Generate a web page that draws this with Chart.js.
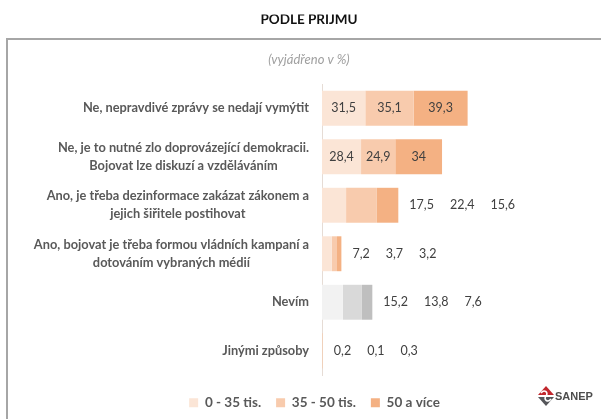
<!DOCTYPE html>
<html>
<head>
<meta charset="utf-8">
<script src="https://cdn.jsdelivr.net/npm/chart.js@4.4.1/dist/chart.umd.min.js"></script>
<style>
html, body { margin: 0; padding: 0; background: #ffffff; }
#wrap { position: relative; width: 601px; height: 419px; overflow: hidden; }
canvas { display: block; }
</style>
</head>
<body>
<div id="wrap"><canvas id="c" width="601" height="419"></canvas></div>
<script>
// ---- data ----
const chartTitle = 'PODLE PŘÍJMU';
const chartSubtitle = '(vyjádřeno v %)';
const logoText = 'SANEP';
const categories = [
  ['Ne, nepravdivé zprávy se nedají vymýtit'],
  ['Ne, je to nutné zlo doprovázející demokracii.', 'Bojovat lze diskuzí a vzděláváním'],
  ['Ano, je třeba dezinformace zakázat zákonem a', 'jejich šiřitele postihovat'],
  ['Ano, bojovat je třeba formou vládních kampaní a', 'dotováním vybraných médií'],
  ['Nevím'],
  ['Jinými způsoby']
];
const seriesNames = ['0 - 35 tis.', '35 - 50 tis.', '50 a více'];
const values0to35 = [31.5, 28.4, 17.5, 7.2, 15.2, 0.2];
const values35to50 = [35.1, 24.9, 22.4, 3.7, 13.8, 0.1];
const values50plus = [39.3, 34, 15.6, 3.2, 7.6, 0.3];

// ---- styles ----
const orangeColors = ['#FBE5D6', '#F8CBAD', '#F4B183'];
const greyColors = ['#F2F2F2', '#D9D9D9', '#BFBFBF'];
const greyCategory = 'Nevím';
const FONT = 'Lato, "Open Sans", sans-serif';

const seriesValues = [values0to35, values35to50, values50plus];
const greyIndex = categories.findIndex(c => c[0] === greyCategory);

const datasets = seriesValues.map((vals, d) => ({
  label: seriesNames[d],
  data: vals,
  backgroundColor: (ctx) => (ctx.dataIndex === greyIndex ? greyColors[d] : orangeColors[d]),
  borderWidth: 0,
  barPercentage: 0.72,
  categoryPercentage: 1.0
}));

function fmt(v) { return String(v).replace('.', ','); }

const decorPlugin = {
  id: 'decor',
  beforeDraw(chart) {
    const ctx = chart.ctx;
    ctx.save();
    // frame
    ctx.strokeStyle = '#A6A6A6';
    ctx.lineWidth = 2;
    ctx.strokeRect(7, 39, 800, 600);
    // title (clipped at top like the reference)
    ctx.save();
    ctx.beginPath();
    ctx.rect(0, 14.5, 601, 14);
    ctx.clip();
    ctx.fillStyle = '#111111';
    ctx.font = 'bold 13.5px ' + FONT;
    ctx.textAlign = 'center';
    ctx.textBaseline = 'alphabetic';
    ctx.fillText(chartTitle, 309, 23.5);
    ctx.restore();
    // subtitle
    ctx.fillStyle = '#A0A0A0';
    ctx.font = 'italic 13px ' + FONT;
    ctx.textAlign = 'center';
    ctx.textBaseline = 'middle';
    ctx.fillText(chartSubtitle, 309, 60);
    // logo
    ctx.fillStyle = '#C1272D';
    ctx.beginPath();
    ctx.moveTo(538, 395); ctx.lineTo(546, 386); ctx.lineTo(554, 395); ctx.closePath();
    ctx.fill();
    ctx.fillStyle = '#55565A';
    ctx.beginPath();
    ctx.moveTo(538, 397); ctx.lineTo(554, 397); ctx.lineTo(546, 406); ctx.closePath();
    ctx.fill();
    ctx.strokeStyle = '#ffffff';
    ctx.lineWidth = 1.6;
    ctx.beginPath();
    ctx.moveTo(541, 393);
    ctx.bezierCurveTo(544, 389, 549, 392, 546, 396);
    ctx.bezierCurveTo(543, 400, 548, 403, 551, 399);
    ctx.stroke();
    ctx.fillStyle = '#4D4D4D';
    ctx.font = 'bold 11px "Liberation Sans", Arial, sans-serif';
    ctx.textAlign = 'left';
    ctx.textBaseline = 'middle';
    ctx.fillText(logoText, 555, 397);
    ctx.restore();
  },
  afterDatasetsDraw(chart) {
    const ctx = chart.ctx;
    const yScale = chart.scales.y;
    const area = chart.chartArea;
    ctx.save();
    // category labels: block right-aligned, lines centred within block
    ctx.font = 'bold 12.8px ' + FONT;
    ctx.fillStyle = '#595959';
    ctx.textAlign = 'center';
    ctx.textBaseline = 'middle';
    const lineH = 18;
    categories.forEach((lines, i) => {
      const y = yScale.getPixelForValue(i);
      const maxW = Math.max(...lines.map(l => ctx.measureText(l).width));
      const cx = area.left - 13 - maxW / 2;
      lines.forEach((l, k) => {
        ctx.fillText(l, cx, y - (lines.length - 1) * lineH / 2 + k * lineH);
      });
    });
    // value labels
    ctx.font = '12.5px ' + FONT;
    ctx.fillStyle = '#404040';
    const metas = chart.data.datasets.map((_, d) => chart.getDatasetMeta(d));
    categories.forEach((_, i) => {
      const bars = metas.map(m => m.data[i]);
      const widths = bars.map(b => Math.abs(b.x - b.base));
      const minW = Math.min(...widths);
      const y = bars[0].y;
      if (minW >= 28) {
        ctx.textAlign = 'center';
        bars.forEach((b, d) => {
          ctx.fillText(fmt(seriesValues[d][i]), (b.x + b.base) / 2, y);
        });
      } else {
        ctx.textAlign = 'left';
        let cursor = Math.max(...bars.map(b => b.x)) + 11;
        bars.forEach((b, d) => {
          const t = fmt(seriesValues[d][i]);
          ctx.fillText(t, cursor, y);
          cursor += ctx.measureText(t).width + 16;
        });
      }
    });
    ctx.restore();
  }
};

new Chart(document.getElementById('c'), {
  type: 'bar',
  data: { labels: categories, datasets },
  plugins: [decorPlugin],
  options: {
    indexAxis: 'y',
    responsive: false,
    animation: false,
    devicePixelRatio: 1,
    layout: { padding: { left: 32, right: 4, top: 84, bottom: 0 } },
    scales: {
      x: { stacked: true, min: 0, max: 200, display: false },
      y: {
        stacked: true,
        grid: { display: false },
        ticks: { display: false },
        border: { display: true, color: '#E6DCD5', width: 1 },
        afterFit: (s) => { s.width = 290; }
      }
    },
    plugins: {
      tooltip: { enabled: false },
      legend: {
        position: 'bottom',
        maxHeight: 44,
        title: { display: true, text: '', font: { size: 1 }, padding: { top: 4.8, bottom: 0 } },
        labels: {
          boxWidth: 9,
          boxHeight: 9,
          padding: 15,
          color: '#595959',
          font: { family: FONT, size: 13.5, weight: 'bold' }
        }
      }
    }
  }
});
</script>
</body>
</html>
